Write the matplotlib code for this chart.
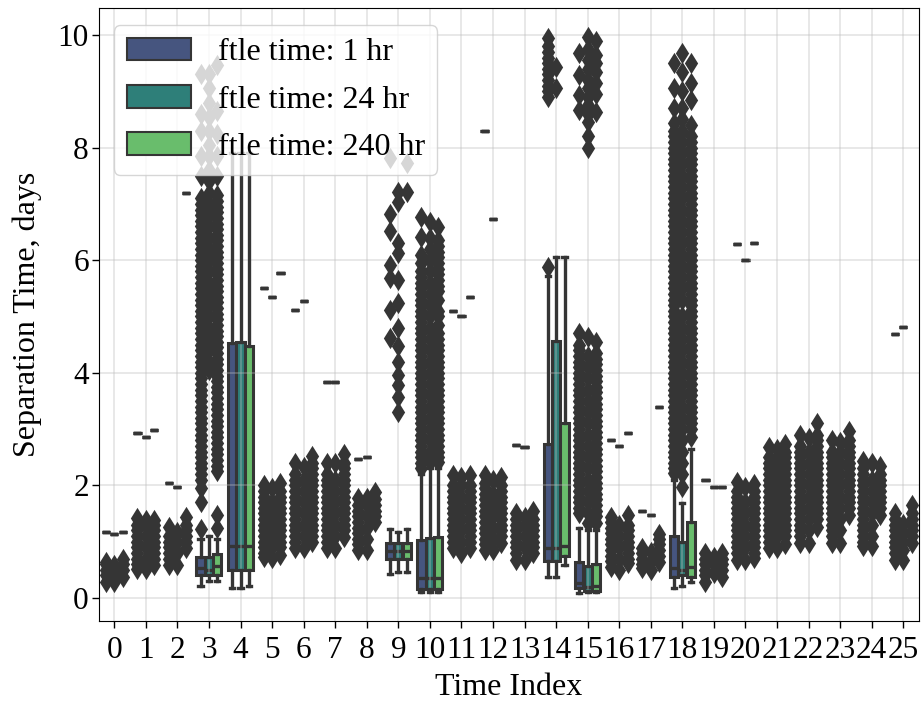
import numpy as np
import matplotlib
matplotlib.use("Agg")
import matplotlib.pyplot as plt
from matplotlib.patches import Patch

plt.rcParams['font.family'] = ['Liberation Serif', 'DejaVu Serif']

nan = float('nan')
labels = ['ftle time: 1 hr', 'ftle time: 24 hr', 'ftle time: 240 hr']
colors = ['#46557f', '#2e7f79', '#69bd6c']
dark = '#353535'
time_index = list(range(26))

# groups where the whole box collapses to one flat value
flat_1hr = [1.17, 2.93, 2.05, nan, nan, 5.50, 5.11, 3.84, 2.47, nan, nan, 5.10, 8.30, 2.72, nan, nan, 2.81, 1.55, nan, 2.10, 6.28, nan, nan, nan, nan, 4.69]
flat_24hr = [1.14, 2.85, 1.97, nan, nan, 5.34, 5.27, 3.84, 2.50, nan, nan, 5.01, 6.73, 2.68, nan, nan, 2.70, 1.47, nan, 1.97, 6.00, nan, nan, nan, nan, 4.81]
flat_240hr = [1.17, 2.99, 7.19, nan, nan, 5.77, nan, nan, nan, nan, nan, 5.35, nan, nan, nan, nan, 2.93, 3.39, nan, 1.97, 6.30, nan, nan, nan, nan, nan]

# whislo, q1, med, q3, whishi
boxes_1hr = {3: (.21, .41, .53, .73, 1.05), 4: (.18, .50, .92, 4.53, 7.9), 9: (.43, .69, .83, .98, 1.22),
             10: (.10, .16, .36, 1.03, 2.2), 14: (.37, .66, .89, 2.73, 5.72), 15: (.09, .18, .27, .64, 1.25),
             18: (.18, .37, .53, 1.10, 2.1)}
boxes_24hr = {3: (.30, .41, .49, .73, 1.10), 4: (.18, .50, .92, 4.55, 7.9), 9: (.46, .69, .83, .98, 1.17),
              10: (.10, .16, .35, 1.07, 2.3), 14: (.37, .66, .89, 4.56, 6.06), 15: (.10, .12, .20, .57, 1.2),
              18: (.21, .41, .50, 1.00, 1.69)}
boxes_240hr = {3: (.30, .41, .56, .78, 1.05), 4: (.22, .50, .92, 4.47, 7.9), 9: (.46, .69, .83, .98, 1.22),
               10: (.10, .16, .35, 1.08, 2.3), 14: (.59, .74, .92, 3.10, 6.06), 15: (.10, .12, .22, .60, 1.2),
               18: (.28, .37, .55, 1.35, 2.65)}

fliers_1hr = [
    [.29, .4, .5, .6, .64],
    [.51, .6, .7, .8, .9, 1.0, 1.1, 1.2, 1.3, 1.42],
    [.59, .7, .8, .9, 1.0, 1.1, 1.26],
    [1.22, 1.7, 1.95, 2.1, 2.2, 2.3, 2.4, 2.5, 2.6, 2.7, 2.8, 2.9, 3.0, 3.1, 3.2, 3.3, 3.4, 3.5, 3.6, 3.7, 3.8, 3.9, 4.0, 4.1, 4.2, 4.3, 4.4, 4.5, 4.6, 4.7, 4.8, 4.9, 5.0, 5.1, 5.2, 5.3, 5.4, 5.5, 5.6, 5.7, 5.8, 5.9, 6.0, 6.1, 6.2, 6.3, 6.4, 6.5, 6.6, 6.7, 6.8, 6.9, 7.0, 7.1, 7.5, 7.85, 8.3, 8.6, 9.3],
    [],
    [.73, .8, .9, 1.0, 1.1, 1.2, 1.3, 1.4, 1.5, 1.6, 1.7, 1.8, 1.9, 2.0],
    [.89, 1.0, 1.1, 1.2, 1.3, 1.4, 1.5, 1.6, 1.7, 1.8, 1.9, 2.0, 2.1, 2.2, 2.39],
    [.89, 1.0, 1.1, 1.2, 1.3, 1.4, 1.5, 1.6, 1.7, 1.8, 1.9, 2.0, 2.1, 2.2, 2.39],
    [.85, .95, 1.05, 1.15, 1.25, 1.35, 1.45, 1.55, 1.65, 1.77],
    [4.62, 5.11, 5.68, 5.91, 6.52, 6.82, 7.81],
    [2.31, 2.4, 2.5, 2.6, 2.7, 2.8, 2.9, 3.0, 3.1, 3.2, 3.3, 3.4, 3.5, 3.6, 3.7, 3.8, 3.9, 4.0, 4.1, 4.2, 4.3, 4.4, 4.5, 4.6, 4.7, 4.8, 4.9, 5.0, 5.1, 5.2, 5.3, 5.4, 5.5, 5.6, 5.7, 5.8, 5.95, 6.1, 6.41, 6.77],
    [.89, 1.0, 1.1, 1.2, 1.3, 1.4, 1.5, 1.6, 1.7, 1.8, 1.9, 2.0, 2.18],
    [.85, .95, 1.05, 1.15, 1.25, 1.35, 1.45, 1.55, 1.65, 1.75, 1.85, 1.95, 2.05, 2.18],
    [.68, .8, .9, 1.0, 1.1, 1.2, 1.3, 1.4, 1.51],
    [5.88, 8.9, 9.0, 9.1, 9.2, 9.3, 9.4, 9.5, 9.6, 9.7, 9.8, 9.95],
    [1.51, 1.6, 1.7, 1.8, 1.9, 2.0, 2.1, 2.2, 2.3, 2.4, 2.5, 2.6, 2.7, 2.8, 2.9, 3.0, 3.1, 3.2, 3.3, 3.4, 3.5, 3.6, 3.7, 3.8, 3.9, 4.0, 4.1, 4.2, 4.3, 4.4, 4.5, 4.7, 8.67, 8.93, 9.29, 9.68],
    [.55, .65, .75, .85, .95, 1.05, 1.15, 1.25, 1.35, 1.44],
    [.54, .6, .7, .8, .89],
    [2.22, 2.3, 2.4, 2.5, 2.6, 2.7, 2.8, 2.9, 3.0, 3.1, 3.2, 3.3, 3.4, 3.5, 3.6, 3.7, 3.8, 3.9, 4.0, 4.1, 4.2, 4.3, 4.4, 4.5, 4.6, 4.7, 4.8, 4.9, 5.0, 5.1, 5.2, 5.3, 5.4, 5.5, 5.6, 5.7, 5.8, 5.9, 6.0, 6.1, 6.2, 6.3, 6.4, 6.5, 6.6, 6.7, 6.8, 6.9, 7.0, 7.1, 7.2, 7.3, 7.4, 7.5, 7.6, 7.7, 7.8, 7.9, 8.0, 8.1, 8.2, 8.3, 8.43, 8.7, 9.06, 9.5],
    [.29, .4, .5, .6, .7, .8],
    [.68, .8, .9, 1.0, 1.1, 1.2, 1.3, 1.4, 1.5, 1.6, 1.7, 1.8, 1.9, 2.06],
    [.89, 1.0, 1.1, 1.2, 1.3, 1.4, 1.5, 1.6, 1.7, 1.8, 1.9, 2.0, 2.1, 2.2, 2.3, 2.4, 2.5, 2.68],
    [.98, 1.1, 1.2, 1.3, 1.4, 1.5, 1.6, 1.7, 1.8, 1.9, 2.0, 2.1, 2.2, 2.3, 2.4, 2.5, 2.6, 2.7, 2.89],
    [.98, 1.1, 1.2, 1.3, 1.4, 1.5, 1.6, 1.7, 1.8, 1.9, 2.0, 2.1, 2.2, 2.3, 2.4, 2.5, 2.6, 2.8],
    [.93, 1.0, 1.1, 1.2, 1.3, 1.4, 1.5, 1.6, 1.7, 1.8, 1.9, 2.0, 2.1, 2.2, 2.3, 2.43],
    [.68, .8, .9, 1.0, 1.1, 1.2, 1.3, 1.4, 1.51],
]

fliers_24hr = [
    [.29, .4, .5, .58],
    [.51, .7, .9, 1.1, 1.3, 1.38],
    [.59, .8, 1.0, 1.17],
    [4.05, 4.2, 4.4, 4.6, 4.8, 5.0, 5.2, 5.4, 5.6, 5.8, 6.0, 6.2, 6.4, 6.6, 6.8, 7.0, 7.2, 7.4, 7.6, 7.85, 8.05, 8.3, 8.55, 8.8, 9.05, 9.3],
    [],
    [.71, .9, 1.1, 1.3, 1.5, 1.7, 1.95],
    [.89, 1.1, 1.3, 1.5, 1.7, 1.9, 2.1, 2.33],
    [.89, 1.1, 1.3, 1.5, 1.7, 1.9, 2.1, 2.39],
    [.85, 1.05, 1.25, 1.45, 1.65, 1.77],
    [3.3, 3.57, 3.78, 3.96, 4.19, 4.47, 4.8, 5.24, 5.65, 6.13, 6.3, 7.03, 7.21],
    [2.42, 2.6, 2.8, 3.0, 3.2, 3.4, 3.6, 3.8, 4.0, 4.2, 4.4, 4.6, 4.8, 5.0, 5.2, 5.4, 5.6, 5.8, 6.0, 6.2, 6.4, 6.68],
    [.8, 1.0, 1.2, 1.4, 1.6, 1.8, 2.0, 2.15],
    [.85, 1.05, 1.25, 1.45, 1.65, 1.85, 2.09],
    [.68, .9, 1.1, 1.3, 1.43],
    [9.06, 9.43],
    [1.33, 1.5, 1.7, 1.9, 2.1, 2.3, 2.5, 2.7, 2.9, 3.1, 3.3, 3.5, 3.7, 3.9, 4.1, 4.3, 4.63, 8.0, 8.2, 8.45, 8.6, 8.75, 8.9, 9.05, 9.2, 9.4, 9.55, 9.75, 9.96],
    [.5, .7, .9, 1.1, 1.29],
    [.5, .65, .82],
    [1.97, 2.2, 2.4, 2.6, 2.8, 3.0, 3.2, 3.4, 3.6, 3.8, 4.0, 4.2, 4.4, 4.6, 4.8, 5.0, 5.3, 5.5, 5.7, 5.9, 6.1, 6.3, 6.5, 6.7, 6.9, 7.1, 7.3, 7.5, 7.7, 7.9, 8.1, 8.3, 8.5, 8.7, 9.0, 9.34, 9.68],
    [.45, .6, .73],
    [.68, .9, 1.1, 1.3, 1.5, 1.7, 1.97],
    [.89, 1.1, 1.3, 1.5, 1.7, 1.9, 2.1, 2.3, 2.5, 2.64],
    [.98, 1.2, 1.4, 1.6, 1.8, 2.0, 2.2, 2.4, 2.6, 2.84],
    [.98, 1.2, 1.4, 1.6, 1.8, 2.0, 2.2, 2.4, 2.6, 2.77],
    [.93, 1.1, 1.3, 1.5, 1.7, 1.9, 2.1, 2.39],
    [.68, .85, 1.0, 1.15, 1.31],
]

fliers_240hr = [
    [.38, .5, .6, .69],
    [.59, .7, .8, .9, 1.0, 1.1, 1.2, 1.3, 1.38],
    [.89, 1.0, 1.1, 1.2, 1.3, 1.44],
    [1.25, 1.47, 2.25, 2.35, 2.45, 2.55, 2.65, 2.75, 2.85, 2.95, 3.05, 3.15, 3.25, 3.35, 3.45, 3.55, 3.65, 3.75, 3.85, 3.95, 4.05, 4.15, 4.25, 4.35, 4.45, 4.55, 4.65, 4.75, 4.85, 4.95, 5.05, 5.15, 5.25, 5.35, 5.45, 5.55, 5.65, 5.75, 5.85, 5.95, 6.05, 6.15, 6.25, 6.35, 6.45, 6.55, 6.65, 6.75, 6.85, 6.95, 7.05, 7.15, 7.5, 7.85, 8.25, 8.65, 9.47],
    [],
    [.76, .9, 1.0, 1.1, 1.2, 1.3, 1.4, 1.5, 1.6, 1.7, 1.8, 1.9, 2.04],
    [1.0, 1.1, 1.2, 1.3, 1.4, 1.5, 1.6, 1.7, 1.8, 1.9, 2.0, 2.1, 2.2, 2.3, 2.4, 2.52],
    [1.09, 1.2, 1.3, 1.4, 1.5, 1.6, 1.7, 1.8, 1.9, 2.0, 2.1, 2.2, 2.3, 2.4, 2.55],
    [1.35, 1.45, 1.55, 1.65, 1.75, 1.88],
    [7.21, 7.73],
    [2.42, 2.5, 2.6, 2.7, 2.8, 2.9, 3.0, 3.1, 3.2, 3.3, 3.4, 3.5, 3.6, 3.7, 3.8, 3.9, 4.0, 4.1, 4.2, 4.3, 4.4, 4.5, 4.6, 4.7, 4.85, 5.0, 5.1, 5.3, 5.45, 5.55, 5.65, 5.75, 5.85, 5.95, 6.05, 6.15, 6.25, 6.35, 6.59],
    [.89, 1.0, 1.1, 1.2, 1.3, 1.4, 1.5, 1.6, 1.7, 1.8, 1.9, 2.0, 2.18],
    [.98, 1.1, 1.2, 1.3, 1.4, 1.5, 1.6, 1.7, 1.8, 1.9, 2.0, 2.15],
    [.8, .9, 1.0, 1.1, 1.2, 1.3, 1.4, 1.54],
    [],
    [1.33, 1.45, 1.55, 1.65, 1.75, 1.85, 1.95, 2.05, 2.15, 2.25, 2.35, 2.45, 2.55, 2.65, 2.75, 2.85, 2.95, 3.05, 3.15, 3.25, 3.35, 3.45, 3.55, 3.65, 3.75, 3.85, 3.95, 4.05, 4.15, 4.25, 4.35, 4.55, 8.63, 8.95, 9.15, 9.35, 9.5, 9.65, 9.9],
    [.62, .7, .8, .9, 1.0, 1.1, 1.2, 1.3, 1.47],
    [.64, .75, .85, .95, 1.05, 1.13],
    [2.85, 3.0, 3.1, 3.2, 3.3, 3.4, 3.5, 3.6, 3.7, 3.8, 3.9, 4.0, 4.1, 4.2, 4.3, 4.4, 4.5, 4.6, 4.7, 4.8, 4.9, 5.0, 5.1, 5.2, 5.3, 5.4, 5.5, 5.6, 5.7, 5.8, 5.9, 6.0, 6.1, 6.2, 6.3, 6.4, 6.5, 6.6, 6.7, 6.8, 6.9, 7.0, 7.1, 7.2, 7.3, 7.4, 7.5, 7.6, 7.7, 7.8, 7.9, 8.0, 8.1, 8.2, 8.4, 8.85, 9.15, 9.5],
    [.38, .5, .6, .7, .8],
    [.71, .8, .9, 1.0, 1.1, 1.2, 1.3, 1.4, 1.5, 1.6, 1.7, 1.8, 1.9, 2.02],
    [.96, 1.1, 1.2, 1.3, 1.4, 1.5, 1.6, 1.7, 1.8, 1.9, 2.0, 2.1, 2.2, 2.3, 2.4, 2.5, 2.6, 2.73],
    [1.26, 1.4, 1.5, 1.6, 1.7, 1.8, 1.9, 2.0, 2.1, 2.2, 2.3, 2.4, 2.5, 2.6, 2.7, 2.8, 2.9, 3.1],
    [1.48, 1.6, 1.7, 1.8, 1.9, 2.0, 2.1, 2.2, 2.3, 2.4, 2.5, 2.6, 2.7, 2.8, 2.96],
    [1.48, 1.6, 1.7, 1.8, 1.9, 2.0, 2.1, 2.2, 2.34],
    [.98, 1.1, 1.2, 1.3, 1.4, 1.5, 1.65],
]

flats = [flat_1hr, flat_24hr, flat_240hr]
boxes = [boxes_1hr, boxes_24hr, boxes_240hr]
fliers = [fliers_1hr, fliers_24hr, fliers_240hr]

fig = plt.figure(figsize=(9.21, 7.02), dpi=100)
ax = fig.add_axes([98.5 / 921, 1 - 621 / 702, (919 - 98.5) / 921, (621 - 8) / 702])

hue_step = 0.8 / 3
for h in range(3):
    offset = (h - 1) * hue_step
    stats = []
    positions = []
    for g in time_index:
        if g in boxes[h]:
            lo, q1, med, q3, hi = boxes[h][g]
        elif not np.isnan(flats[h][g]):
            lo = q1 = med = q3 = hi = flats[h][g]
        else:
            continue
        stats.append(dict(whislo=lo, q1=q1, med=med, q3=q3, whishi=hi, fliers=[]))
        positions.append(g + offset)
    line = dict(color=dark, linewidth=2.4)
    art = ax.bxp(stats, positions=positions, widths=0.26, capwidths=0.13, patch_artist=True,
                 manage_ticks=False, showfliers=False,
                 boxprops=dict(facecolor=colors[h], edgecolor=dark, linewidth=2.2),
                 medianprops=line, whiskerprops=line, capprops=line)
    # grid shows through the boxes in the original
    for b in art['boxes']:
        b.set_zorder(1)
    for m in art['medians']:
        m.set_zorder(1.2)
    for g in time_index:
        vals = fliers[h][g]
        ax.plot([g + offset] * len(vals), vals, ls='none', marker='d', ms=8, mfc=dark, mec=dark,
                mew=2, zorder=2)

ax.grid(True, color='#bbbbbb', alpha=0.4, linewidth=1.2, zorder=1.5)
ax.set_axisbelow('line')
ax.set_xlim(-0.5, 25.5)
ax.set_ylim(-0.41, 10.48)
ax.set_xticks(time_index)
ax.set_xticklabels([str(i) for i in time_index])
ax.set_yticks([0, 2, 4, 6, 8, 10])
ax.tick_params(labelsize=22.5, length=5, width=1)
ax.tick_params(axis='x', pad=6)
ax.tick_params(axis='y', pad=2)
ax.set_xlabel('Time Index', fontsize=23, labelpad=5.5)
ax.set_ylabel('Separation Time, days', fontsize=23, labelpad=11)

handles = [Patch(facecolor=c, edgecolor=dark, linewidth=1.5) for c in colors]
ax.legend(handles, labels, loc='upper left', fontsize=23, bbox_to_anchor=(0.0189, 0.972),
          borderaxespad=0, handlelength=2.0, handletextpad=0.84, labelspacing=0.56)

fig.savefig('out.png', dpi=100)
